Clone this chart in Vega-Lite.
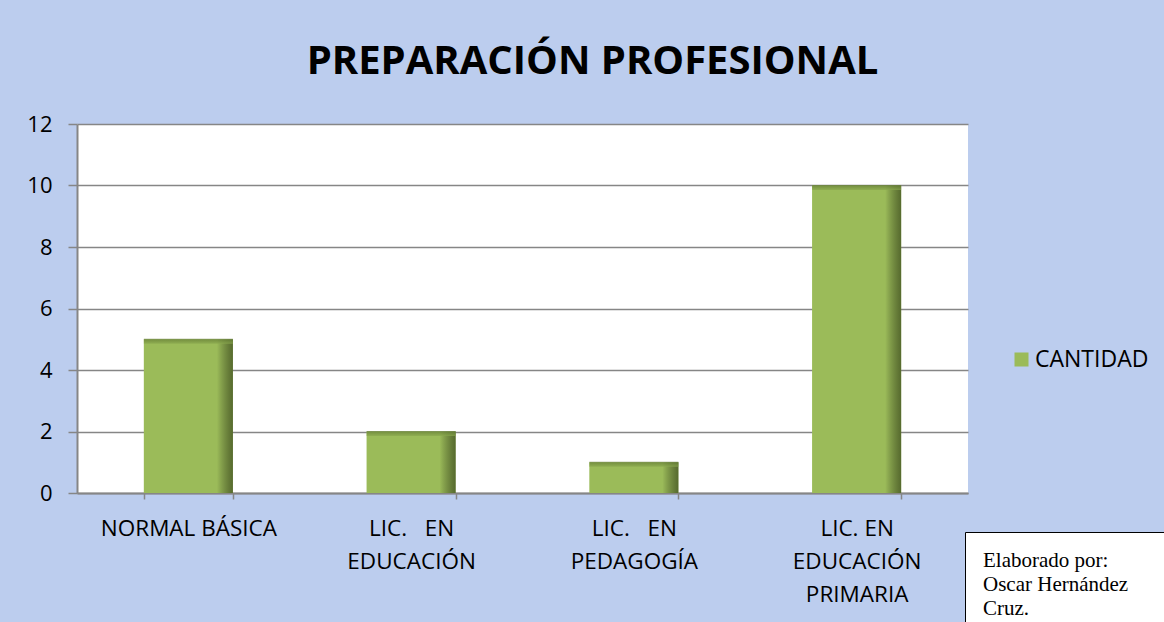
{
  "$schema": "https://vega.github.io/schema/vega-lite/v6.json",
  "width": 891,
  "height": 369,
  "autosize": {"type": "none"},
  "padding": {"left": 77, "top": 124, "right": 196, "bottom": 129},
  "background": "#bccdee",
  "title": {
    "text": "PREPARACIÓN PROFESIONAL",
    "font": "Open Sans",
    "fontSize": 40,
    "fontWeight": "bold",
    "color": "#000000",
    "anchor": "middle",
    "frame": "group",
    "dx": 70,
    "offset": -1,
    "baseline": "alphabetic"
  },
  "data": {
    "values": [
      {"preparacion": "NORMAL BÁSICA", "cantidad": 5, "serie": "CANTIDAD", "nota": "nota"},
      {"preparacion": "LIC. EN EDUCACIÓN", "cantidad": 2, "serie": "CANTIDAD", "nota": "nota"},
      {"preparacion": "LIC. EN PEDAGOGÍA", "cantidad": 1, "serie": "CANTIDAD", "nota": "nota"},
      {"preparacion": "LIC. EN EDUCACIÓN PRIMARIA", "cantidad": 10, "serie": "CANTIDAD", "nota": "nota"}
    ]
  },
  "config": {
    "view": {"stroke": null, "fill": "white"},
    "font": "Open Sans"
  },
  "encoding": {
    "x": {
      "field": "preparacion",
      "type": "nominal",
      "sort": null,
      "scale": {"paddingInner": 0.6, "paddingOuter": 0.3},
      "axis": {
        "title": null,
        "labelAngle": 0,
        "labelFont": "Open Sans",
        "labelFontSize": 22.5,
        "labelColor": "#000000",
        "labelLineHeight": 33,
        "labelLimit": 0,
        "labelPadding": 18,
        "labelExpr": "datum.value == 'NORMAL BÁSICA' ? 'NORMAL BÁSICA' : datum.value == 'LIC. EN EDUCACIÓN' ? ['LIC.\u00a0\u00a0\u00a0EN', 'EDUCACIÓN'] : datum.value == 'LIC. EN PEDAGOGÍA' ? ['LIC.\u00a0\u00a0\u00a0EN', 'PEDAGOGÍA'] : datum.value == 'LIC. EN EDUCACIÓN PRIMARIA' ? ['LIC. EN', 'EDUCACIÓN', 'PRIMARIA'] : ''",
        "tickBand": "extent",
        "tickSize": 6,
        "tickColor": "#868686",
        "tickWidth": 1.5,
        "domainColor": "#868686",
        "domainWidth": 2,
        "grid": false
      }
    },
    "y": {
      "field": "cantidad",
      "type": "quantitative",
      "scale": {"domain": [0, 12]},
      "axis": {
        "title": null,
        "values": [0, 2, 4, 6, 8, 10, 12],
        "labelFont": "Open Sans",
        "labelFontSize": 22,
        "labelColor": "#000000",
        "labelPadding": 16,
        "tickSize": 9,
        "tickColor": "#868686",
        "tickWidth": 1.5,
        "domainColor": "#868686",
        "domainWidth": 2,
        "gridColor": "#868686",
        "gridWidth": 1.5
      }
    }
  },
  "layer": [
    {
      "mark": {"type": "bar"},
      "encoding": {
        "color": {
          "field": "serie",
          "type": "nominal",
          "scale": {"range": ["#9bbb59"]},
          "legend": {
            "orient": "none",
            "legendX": 933,
            "legendY": 224,
            "title": null,
            "symbolType": "square",
            "symbolSize": 196,
            "symbolStrokeWidth": 0,
            "labelFont": "Open Sans",
            "labelFontSize": 23,
            "labelColor": "#000000",
            "labelOffset": 2
          }
        }
      }
    },
    {
      "mark": {
        "type": "bar",
        "color": {
          "gradient": "linear",
          "x1": 0, "x2": 1, "y1": 0, "y2": 0,
          "stops": [
            {"offset": 0, "color": "rgba(0,0,0,0)"},
            {"offset": 0.82, "color": "rgba(0,0,0,0)"},
            {"offset": 1, "color": "rgba(30,40,10,0.55)"}
          ]
        }
      },
      "encoding": {
        "strokeDash": {
          "field": "nota",
          "type": "nominal",
          "scale": {"range": [[1, 0]]},
          "legend": {
            "orient": "none",
            "legendX": 888,
            "legendY": 408,
            "title": ["Elaborado por:", "Oscar Hernández", "Cruz."],
            "titleFont": "Liberation Serif",
            "titleFontWeight": "normal",
            "titleFontSize": 21,
            "titleLineHeight": 24,
            "titleColor": "#000000",
            "titleLimit": 0,
            "titlePadding": 0,
            "fillColor": "white",
            "strokeColor": "black",
            "padding": 18,
            "labelExpr": "' '",
            "labelFontSize": 1,
            "labelOffset": 230,
            "symbolOpacity": 0,
            "symbolSize": 1
          }
        }
      }
    },
    {
      "mark": {
        "type": "tick",
        "orient": "horizontal",
        "thickness": 5,
        "size": 89,
        "yOffset": 2,
        "color": {
          "gradient": "linear",
          "x1": 0, "x2": 0, "y1": 0, "y2": 1,
          "stops": [
            {"offset": 0, "color": "#5f7731"},
            {"offset": 1, "color": "#8aa84e"}
          ]
        }
      },
      "encoding": {}
    }
  ]
}
